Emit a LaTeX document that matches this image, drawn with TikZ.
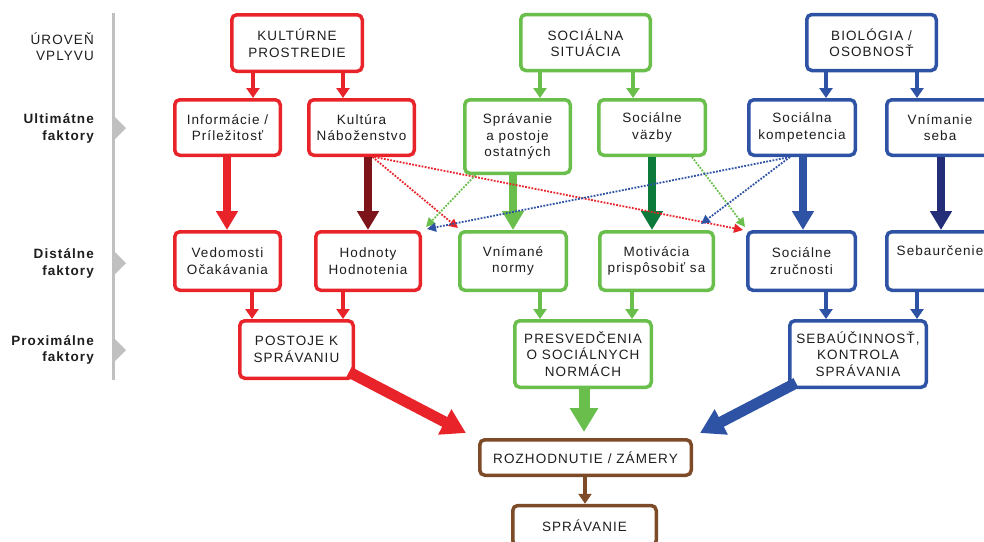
\documentclass[tikz,border=0pt]{standalone}
\usepackage{fontspec}
\setmainfont{Liberation Sans}
\newfontfamily\labfont{Liberation Sans}[LetterSpace=8]
\usetikzlibrary{arrows.meta,calc}
\definecolor{cred}{RGB}{232,36,42}
\definecolor{cgreen}{RGB}{106,190,75}
\definecolor{cblue}{RGB}{46,82,164}
\definecolor{cdred}{RGB}{125,20,25}
\definecolor{cdgreen}{RGB}{12,122,58}
\definecolor{cnavy}{RGB}{35,45,120}
\definecolor{cbrown}{RGB}{125,75,40}
\definecolor{cgray}{RGB}{192,192,192}
\definecolor{txt}{RGB}{30,30,30}
\begin{document}
\begin{tikzpicture}[x=1pt,y=-1pt,
  box/.style={draw=#1, line width=3.5pt, rounded corners=5pt, fill=white, align=center,
    inner sep=0pt, text=txt, font=\labfont\fontsize{13.5}{16.5}\selectfont},
  lvl/.style={anchor=east, align=right, inner sep=0pt, text=txt,
    font=\labfont\fontsize{13.5}{16.5}\selectfont\bfseries},
  sarr/.style={draw=#1, line width=4pt, -{Triangle[width=13pt,length=10pt]}},
  tarr/.style={draw=#1, line width=8.5pt, -{Triangle[width=21pt,length=19pt]}},
  barr/.style={draw=#1, line width=11pt, -{Triangle[width=27pt,length=24pt]}},
  darr/.style={draw=#1, line width=1.8pt, dash pattern=on 1.8pt off 1.4pt,
    -{Triangle[width=9pt,length=9pt]}}
]
\useasboundingbox (0,0) rectangle (984,541);
\fill[white] (0,0) rectangle (984,541);
\begin{scope}
\clip (0,0) rectangle (984,541);

% level axis
\draw[cgray, line width=3pt] (113,13) coordinate (axt) -- (113,380) coordinate (axb);
\fill[cgray] (113,115) -- (126,128) -- (113,141) -- cycle;
\fill[cgray] (113,250) -- (126,263) -- (113,276) -- cycle;
\fill[cgray] (113,337) -- (126,350) -- (113,363) -- cycle;
\node[lvl, font=\labfont\fontsize{13.5}{16.5}\selectfont] (l0) at (94,46.5) {ÚROVEŇ\\VPLYVU};
\node[lvl] (l1) at (94,128.5) {Ultimátne\\faktory};
\node[lvl] (l2) at (94,263.5) {Distálne\\faktory};
\node[lvl] (l3) at (94,350) {Proximálne\\faktory};

% top row
\node[box=cred, minimum width=130.5pt, minimum height=56.5pt] (K) at (297,43) {KULTÚRNE\\PROSTREDIE};
\node[box=cgreen, minimum width=129.5pt, minimum height=56pt] (S) at (585.5,42.5) {SOCIÁLNA\\SITUÁCIA};
\node[box=cblue, minimum width=129.5pt, minimum height=56pt] (B) at (871.5,42.5) {BIOLÓGIA /\\OSOBNOSŤ};

% ultimate
\node[box=cred, minimum width=105.5pt, minimum height=55.5pt] (Info) at (227.5,127.5) {Informácie /\\Príležitosť};
\node[box=cred, minimum width=105.5pt, minimum height=55.5pt] (Kult) at (361.5,127.5) {Kultúra\\Náboženstvo};
\node[box=cgreen, minimum width=105.5pt, minimum height=73.5pt] (Sprav) at (517.5,136.5) {Správanie\\a postoje\\ostatných};
\node[box=cgreen, minimum width=106.5pt, minimum height=55.5pt] (Vazby) at (652,127.5) {Sociálne\\väzby};
\node[box=cblue, minimum width=106.5pt, minimum height=55.5pt] (Komp) at (802,127.5) {Sociálna\\kompetencia};
\node[box=cblue, minimum width=106.5pt, minimum height=55.5pt] (Vnim) at (940,127.5) {Vnímanie\\seba};

% distal
\node[box=cred, minimum width=105.5pt, minimum height=58.5pt] (Vedo) at (227.5,261) {Vedomosti\\Očakávania};
\node[box=cred, minimum width=104.5pt, minimum height=58.5pt] (Hodn) at (368,261) {Hodnoty\\Hodnotenia};
\node[box=cgreen, minimum width=106.5pt, minimum height=58.5pt] (Norm) at (513,261) {Vnímané\\normy};
\node[box=cgreen, minimum width=113.5pt, minimum height=58.5pt] (Motiv) at (656.5,261) {Motivácia\\prispôsobiť sa};
\node[box=cblue, minimum width=107.5pt, minimum height=58.5pt] (Zruc) at (801.5,261) {Sociálne\\zručnosti};
\node[box=cblue, minimum width=106.5pt, minimum height=58.5pt] (Sebaur) at (940,261) {Sebaurčenie\\\strut};

% proximal
\node[box=cred, minimum width=113.5pt, minimum height=57.5pt] (Post) at (296.5,349.5) {POSTOJE K\\SPRÁVANIU};
\node[box=cgreen, minimum width=136.5pt, minimum height=66.5pt] (Presv) at (583,354) {PRESVEDČENIA\\O SOCIÁLNYCH\\NORMÁCH};
\node[box=cblue, minimum width=136.5pt, minimum height=66.5pt] (Sebau) at (858,354) {SEBAÚČINNOSŤ,\\KONTROLA\\SPRÁVANIA};

% decision / behaviour
\node[box=cbrown, minimum width=211.5pt, minimum height=35.5pt] (Rozh) at (585.5,457.5) {ROZHODNUTIE / ZÁMERY};
\node[box=cbrown, minimum width=143.5pt, minimum height=40pt] (Spr) at (584.5,525.5) {SPRÁVANIE};

% small arrows top -> ultimate
\draw[sarr=cred] (253,0 |- K.south) -- (253,0 |- Info.north);
\draw[sarr=cred] (343,0 |- K.south) -- (343,0 |- Kult.north);
\draw[sarr=cgreen] (540,0 |- S.south) -- (540,0 |- Sprav.north);
\draw[sarr=cgreen] (633,0 |- S.south) -- (633,0 |- Vazby.north);
\draw[sarr=cblue] (826,0 |- B.south) -- (826,0 |- Komp.north);
\draw[sarr=cblue] (917,0 |- B.south) -- (917,0 |- Vnim.north);

% thick arrows ultimate -> distal
\draw[tarr=cred] (227,0 |- Info.south) -- (227,0 |- Vedo.north);
\draw[tarr=cdred] (368,0 |- Kult.south) -- (368,0 |- Hodn.north);
\draw[tarr=cgreen] (513,0 |- Sprav.south) -- (513,0 |- Norm.north);
\draw[tarr=cdgreen] (652,0 |- Vazby.south) -- (652,0 |- Motiv.north);
\draw[tarr=cblue] (803,0 |- Komp.south) -- (803,0 |- Zruc.north);
\draw[tarr=cnavy] (941,0 |- Vnim.south) -- (941,0 |- Sebaur.north);

% small arrows distal -> proximal
\draw[sarr=cred] (252,0 |- Vedo.south) -- (252,0 |- Post.north);
\draw[sarr=cred] (343,0 |- Hodn.south) -- (343,0 |- Post.north);
\draw[sarr=cgreen] (540,0 |- Norm.south) -- (540,0 |- Presv.north);
\draw[sarr=cgreen] (632,0 |- Motiv.south) -- (632,0 |- Presv.north);
\draw[sarr=cblue] (826,0 |- Zruc.south) -- (826,0 |- Sebau.north);
\draw[sarr=cblue] (917,0 |- Sebaur.south) -- (917,0 |- Sebau.north);

% big arrows proximal -> decision
\draw[barr=cred] ($(Post.south east)+(-6,-8)$) -- ($(Rozh.north west)+(-12,-5)$);
\draw[barr=cgreen] (584,0 |- Presv.south) -- ($(584,0 |- Rozh.north)+(0,-6)$);
\draw[barr=cblue] ($(Sebau.south west)+(8,-6)$) -- ($(Rozh.north east)+(7,-5)$);
\draw[sarr=cbrown] (585,0 |- Rozh.south) -- (585,0 |- Spr.north);

% dotted cross influences
\draw[darr=cred] ($(Kult.south)+(11,0)$) -- ($(Norm.north west)+(0,-2)$);
\draw[darr=cred] ($(Kult.south)+(13,0)$) -- ($(Zruc.north west)+(-3,0)$);
\draw[darr=cgreen] ($(Sprav.south)+(-42,0)$) -- ($(Hodn.north east)+(4,-3)$);
\draw[darr=cgreen] ($(Vazby.south)+(40,0)$) -- ($(Zruc.north west)+(-1,-3)$);
\draw[darr=cblue] ($(Komp.south)+(-12,0)$) -- ($(Hodn.north east)+(5,-1)$);
\draw[darr=cblue] ($(Komp.south)+(-12,0)$) -- ($(Motiv.north east)+(-14,-6)$);
\end{scope}
\end{tikzpicture}
\end{document}
